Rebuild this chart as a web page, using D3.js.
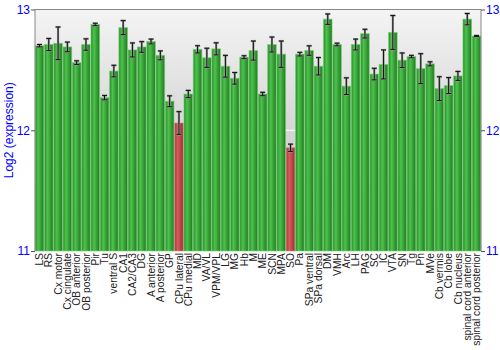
<!DOCTYPE html>
<html><head><meta charset="utf-8">
<script src="https://cdn.jsdelivr.net/npm/d3@7"></script>
<style>body{margin:0;background:#fff}svg{display:block}</style>
</head><body>
<svg id="c" width="500" height="350"></svg>
<script>
const categories = ["LS","RS","Cx motor","Cx cingulate","OB anterior","OB posterior","Pir","Tu","ventral S","CA1","CA2/CA3","DG","A anterior","A posterior","GP","CPu lateral","CPu medial","MD","VA/VL","VPM/VPL","LG","MG","Hb","M","ME","SCN","MPA","SO","Pa","SPa ventral","SPa dorsal","DM","VMH","Arc","LH","PAG","SC","IC","VTA","SN","Tg","Pn","MVe","Cb vermis","Cb lobe","Cb nucleus","spinal cord anterior","spinal cord posterior"];
const values = [12.70,12.71,12.72,12.69,12.56,12.71,12.876,12.27,12.49,12.85,12.665,12.69,12.735,12.62,12.24,12.06,12.30,12.67,12.60,12.674,12.53,12.43,12.605,12.66,12.30,12.71,12.63,11.855,12.63,12.66,12.53,12.92,12.71,12.365,12.71,12.80,12.465,12.545,12.81,12.58,12.61,12.51,12.55,12.345,12.37,12.45,12.92,12.78];
const errors = [0.01,0.05,0.135,0.04,0.015,0.047,0.01,0.018,0.048,0.058,0.058,0.044,0.02,0.037,0.045,0.094,0.03,0.03,0.079,0.05,0.09,0.048,0.012,0.079,0.014,0.062,0.109,0.03,0.015,0.039,0.072,0.043,0.011,0.069,0.045,0.036,0.048,0.12,0.14,0.06,0.01,0.124,0.017,0.098,0.066,0.037,0.047,0.004];
const highlighted = ["CPu lateral","SO"];
const yTicks = [11,12,13];

const svg = d3.select("#c");
const L=35, R=481, T=9.5, B=251;
const x = d3.scaleBand().domain(categories).range([L,R]).paddingInner(0.08).paddingOuter(0.02);
const y = d3.scaleLinear().domain([11,13]).range([B,T]);

const defs = svg.append("defs");
const bg = defs.append("linearGradient").attr("id","bg").attr("x1",0).attr("y1",0).attr("x2",0).attr("y2",1);
bg.append("stop").attr("offset","0%").attr("stop-color","#f4f4f4");
bg.append("stop").attr("offset","100%").attr("stop-color","#b8b8b8");
function hgrad(id, dark, light, dark2){
  const g = defs.append("linearGradient").attr("id",id).attr("x1",0).attr("y1",0).attr("x2",1).attr("y2",0);
  g.append("stop").attr("offset","0%").attr("stop-color",dark);
  g.append("stop").attr("offset","35%").attr("stop-color",light);
  g.append("stop").attr("offset","100%").attr("stop-color",dark2);
}
hgrad("gG","#2a8a2a","#4cc44c","#1f7a1f");
hgrad("gR","#a83434","#d85c5c","#983030");

svg.append("rect").attr("x",L).attr("y",T).attr("width",R-L).attr("height",B-T).attr("fill","url(#bg)");
svg.append("g").selectAll("line").data(yTicks).join("line")
  .attr("x1",L).attr("x2",R).attr("y1",d=>y(d)).attr("y2",d=>y(d))
  .attr("stroke","#ffffff").attr("stroke-width",1);

const bars = svg.append("g").selectAll("g").data(categories).join("g");
bars.append("rect")
  .attr("x",d=>x(d)).attr("width",x.bandwidth())
  .attr("y",(d,i)=>y(values[i])).attr("height",(d,i)=>B-y(values[i]))
  .attr("fill",d=>highlighted.includes(d)?"url(#gR)":"url(#gG)")
  .attr("stroke",d=>highlighted.includes(d)?"#e08080":"#6cd06c").attr("stroke-opacity",0.6).attr("stroke-width",1);

const eb = svg.append("g");
categories.forEach((c,i)=>{
  const cx = x(c)+x.bandwidth()/2;
  const y1 = y(values[i]+errors[i]), y2 = y(values[i]-errors[i]);
  [["#999",2.2],["#111",1]].forEach(([col,w])=>{
    eb.append("line").attr("x1",cx).attr("x2",cx).attr("y1",y1).attr("y2",y2).attr("stroke",col).attr("stroke-width",w);
    eb.append("line").attr("x1",cx-2.5).attr("x2",cx+2.5).attr("y1",y1).attr("y2",y1).attr("stroke",col).attr("stroke-width",w);
    eb.append("line").attr("x1",cx-2.5).attr("x2",cx+2.5).attr("y1",y2).attr("y2",y2).attr("stroke",col).attr("stroke-width",w);
  });
});

// frame
svg.append("line").attr("x1",L).attr("x2",R).attr("y1",T).attr("y2",T).attr("stroke","#888");
svg.append("line").attr("x1",L).attr("x2",L).attr("y1",T).attr("y2",B).attr("stroke","#888");
svg.append("line").attr("x1",R).attr("x2",R).attr("y1",T).attr("y2",B).attr("stroke","#888");

const yl = d3.axisLeft(y).tickValues(yTicks).tickSize(4).tickPadding(1).tickFormat(d3.format("d"));
const yr = d3.axisRight(y).tickValues(yTicks).tickSize(4).tickPadding(1).tickFormat(d3.format("d"));
[svg.append("g").attr("transform",`translate(${L},0)`).call(yl),
 svg.append("g").attr("transform",`translate(${R},0)`).call(yr)].forEach(g=>{
  g.select(".domain").remove();
  g.selectAll(".tick line").attr("stroke","#555");
  g.selectAll("text").attr("fill","#0000ff").style("font-family","Liberation Sans, Arial, sans-serif").style("font-size","12px");
});

svg.append("text").attr("transform",`translate(8.5,${(T+B)/2}) rotate(-90)`)
  .attr("text-anchor","middle").attr("dy","0.35em").attr("fill","#0000ff")
  .style("font-family","Liberation Sans, Arial, sans-serif").style("font-size","12px").text("Log2 (expression)");

const xa = d3.axisBottom(x).tickSize(0).tickPadding(0);
const xg = svg.append("g").attr("transform",`translate(0,${B})`).call(xa);
xg.select(".domain").remove();
xg.selectAll("text").attr("transform","rotate(-90)").attr("text-anchor","end")
  .attr("x",-2).attr("y",0).attr("dy","0.35em").attr("fill","#222")
  .style("font-family","Liberation Sans, Arial, sans-serif").style("font-size","10.3px");
</script>
</body></html>
